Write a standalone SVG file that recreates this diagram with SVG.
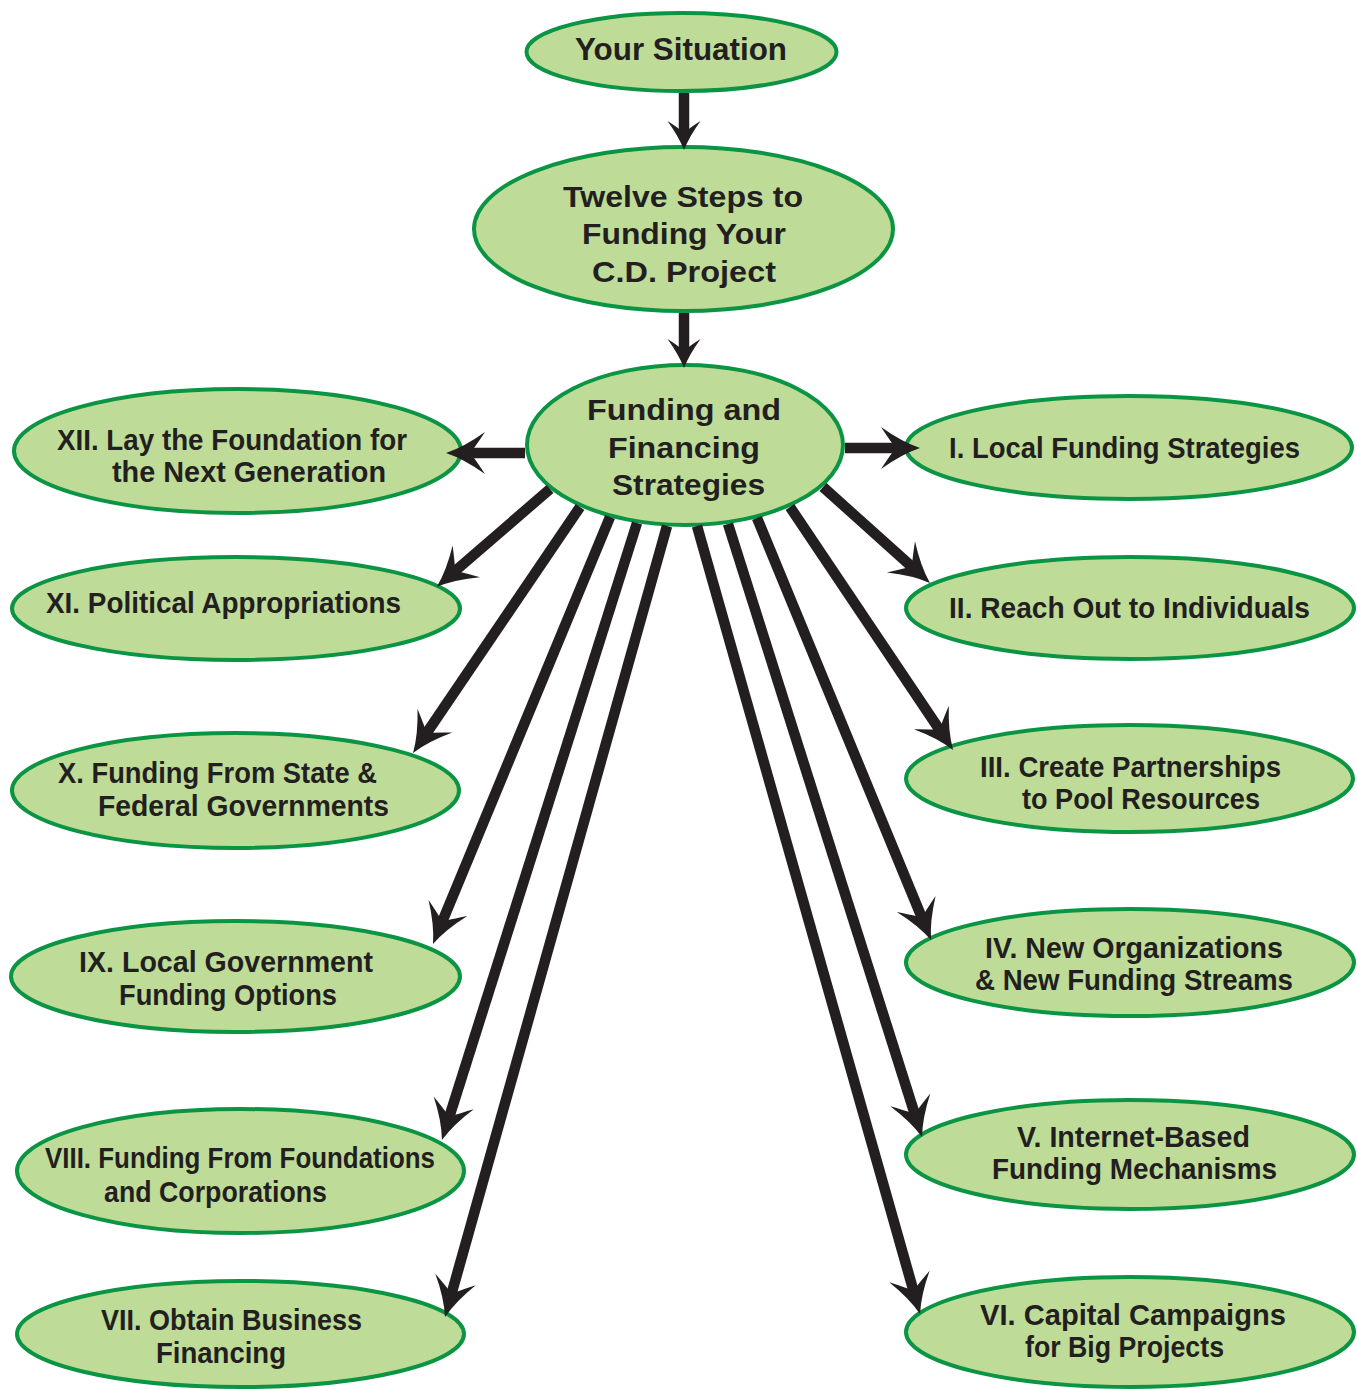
<svg xmlns="http://www.w3.org/2000/svg" width="1357" height="1389" viewBox="0 0 1357 1389">
<style>
.node ellipse{fill:#bedc98;stroke:#0b9444;stroke-width:4}
.node text{font-family:"Liberation Sans",Arial,sans-serif;font-weight:bold;fill:#231f20}
.c text{font-size:30px}
.l text{font-size:30px}
.conn line{stroke:#231f20;stroke-width:10.5;fill:none}
.big{marker-end:url(#ah)}
.small{marker-end:url(#ahs)}
</style>
<defs>
<marker id="ah" markerUnits="userSpaceOnUse" viewBox="-42 -23 44 46" refX="-24" refY="0" markerWidth="44" markerHeight="46" orient="auto">
<path d="M0,0 Q-18,-6 -39,-21 Q-31,-9 -28,-5 L-28,5 Q-31,9 -39,21 Q-18,6 0,0 Z" fill="#231f20"/>
</marker>
<marker id="ahs" markerUnits="userSpaceOnUse" viewBox="-32 -18 34 36" refX="-17" refY="0" markerWidth="34" markerHeight="36" orient="auto">
<path d="M0,0 Q-13,-5 -29,-16.5 Q-23,-7 -21,-5 L-21,5 Q-23,7 -29,16.5 Q-13,5 0,0 Z" fill="#231f20"/>
</marker>
</defs>
<rect width="1357" height="1389" fill="#ffffff"/>

<g id="n-situation" class="node c">
<ellipse cx="681.5" cy="52" rx="155" ry="39"/>
<text x="575" y="60" textLength="212" lengthAdjust="spacingAndGlyphs" style="font-size:32px">Your Situation</text>
</g>
<g id="n-twelve" class="node c">
<ellipse cx="683.5" cy="229" rx="209.5" ry="82"/>
<text x="563" y="207" textLength="240" lengthAdjust="spacingAndGlyphs">Twelve Steps to</text>
<text x="582" y="244" textLength="204" lengthAdjust="spacingAndGlyphs">Funding Your</text>
<text x="592" y="282" textLength="184" lengthAdjust="spacingAndGlyphs">C.D. Project</text>
</g>
<g id="n-funding" class="node c">
<ellipse cx="685" cy="445" rx="158" ry="80"/>
<text x="587" y="420" textLength="194" lengthAdjust="spacingAndGlyphs">Funding and</text>
<text x="608" y="458" textLength="152" lengthAdjust="spacingAndGlyphs">Financing</text>
<text x="612" y="495" textLength="153" lengthAdjust="spacingAndGlyphs">Strategies</text>
</g>

<g id="n-xii" class="node l">
<ellipse cx="237.5" cy="451" rx="223.5" ry="62"/>
<text x="57" y="450" textLength="350" lengthAdjust="spacingAndGlyphs">XII. Lay the Foundation for</text>
<text x="112" y="482" textLength="274" lengthAdjust="spacingAndGlyphs">the Next Generation</text>
</g>
<g id="n-xi" class="node l">
<ellipse cx="236" cy="608.5" rx="224" ry="51.5"/>
<text x="46" y="613" textLength="355" lengthAdjust="spacingAndGlyphs">XI. Political Appropriations</text>
</g>
<g id="n-x" class="node l">
<ellipse cx="235.5" cy="790.5" rx="223.5" ry="57.5"/>
<text x="58" y="783" textLength="319" lengthAdjust="spacingAndGlyphs">X. Funding From State &amp;</text>
<text x="98" y="816" textLength="291" lengthAdjust="spacingAndGlyphs">Federal Governments</text>
</g>
<g id="n-ix" class="node l">
<ellipse cx="235.5" cy="976.5" rx="224.5" ry="55.5"/>
<text x="79" y="972" textLength="294" lengthAdjust="spacingAndGlyphs">IX. Local Government</text>
<text x="119" y="1005" textLength="218" lengthAdjust="spacingAndGlyphs">Funding Options</text>
</g>
<g id="n-viii" class="node l">
<ellipse cx="240.5" cy="1171" rx="223.5" ry="62"/>
<text x="45" y="1168" textLength="390" lengthAdjust="spacingAndGlyphs">VIII. Funding From Foundations</text>
<text x="104" y="1202" textLength="223" lengthAdjust="spacingAndGlyphs">and Corporations</text>
</g>
<g id="n-vii" class="node l">
<ellipse cx="240.5" cy="1334" rx="223.5" ry="53"/>
<text x="101" y="1330" textLength="261" lengthAdjust="spacingAndGlyphs">VII. Obtain Business</text>
<text x="156" y="1363" textLength="130" lengthAdjust="spacingAndGlyphs">Financing</text>
</g>

<g id="n-i" class="node l">
<ellipse cx="1129" cy="447.5" rx="223" ry="51.5"/>
<text x="949" y="458" textLength="351" lengthAdjust="spacingAndGlyphs">I. Local Funding Strategies</text>
</g>
<g id="n-ii" class="node l">
<ellipse cx="1130" cy="608" rx="224" ry="51"/>
<text x="949" y="618" textLength="361" lengthAdjust="spacingAndGlyphs">II. Reach Out to Individuals</text>
</g>
<g id="n-iii" class="node l">
<ellipse cx="1129.5" cy="778.5" rx="223.5" ry="53.5"/>
<text x="980" y="777" textLength="301" lengthAdjust="spacingAndGlyphs">III. Create Partnerships</text>
<text x="1022" y="809" textLength="238" lengthAdjust="spacingAndGlyphs">to Pool Resources</text>
</g>
<g id="n-iv" class="node l">
<ellipse cx="1130" cy="962.5" rx="224" ry="53.5"/>
<text x="985" y="958" textLength="298" lengthAdjust="spacingAndGlyphs">IV. New Organizations</text>
<text x="975" y="990" textLength="318" lengthAdjust="spacingAndGlyphs">&amp; New Funding Streams</text>
</g>
<g id="n-v" class="node l">
<ellipse cx="1130" cy="1154.5" rx="224" ry="54.5"/>
<text x="1017" y="1147" textLength="233" lengthAdjust="spacingAndGlyphs">V. Internet-Based</text>
<text x="992" y="1179" textLength="285" lengthAdjust="spacingAndGlyphs">Funding Mechanisms</text>
</g>
<g id="n-vi" class="node l">
<ellipse cx="1130" cy="1332" rx="224" ry="55"/>
<text x="980" y="1325" textLength="306" lengthAdjust="spacingAndGlyphs">VI. Capital Campaigns</text>
<text x="1025" y="1357" textLength="199" lengthAdjust="spacingAndGlyphs">for Big Projects</text>
</g>

<g id="connectors" class="conn">
<line class="small" x1="684" y1="93" x2="684" y2="133"/>
<line class="small" x1="684" y1="313" x2="684" y2="351"/>
<line class="big" x1="525" y1="453" x2="470" y2="453"/>
<line class="big" x1="845" y1="448" x2="896" y2="448"/>
<line class="big" x1="550" y1="489" x2="455" y2="571.1"/>
<line class="big" x1="580" y1="507" x2="426.5" y2="733.2"/>
<line class="big" x1="610" y1="517" x2="442.2" y2="921.8"/>
<line class="big" x1="637" y1="523" x2="449.2" y2="1117.1"/>
<line class="big" x1="667" y1="526" x2="451.5" y2="1293.9"/>
<line class="big" x1="697" y1="526" x2="913.5" y2="1290.9"/>
<line class="big" x1="728" y1="524" x2="914.8" y2="1114.1"/>
<line class="big" x1="757" y1="518" x2="921.9" y2="917.8"/>
<line class="big" x1="790" y1="507" x2="939.7" y2="730"/>
<line class="big" x1="823" y1="487" x2="912.1" y2="567"/>
</g>
</svg>
